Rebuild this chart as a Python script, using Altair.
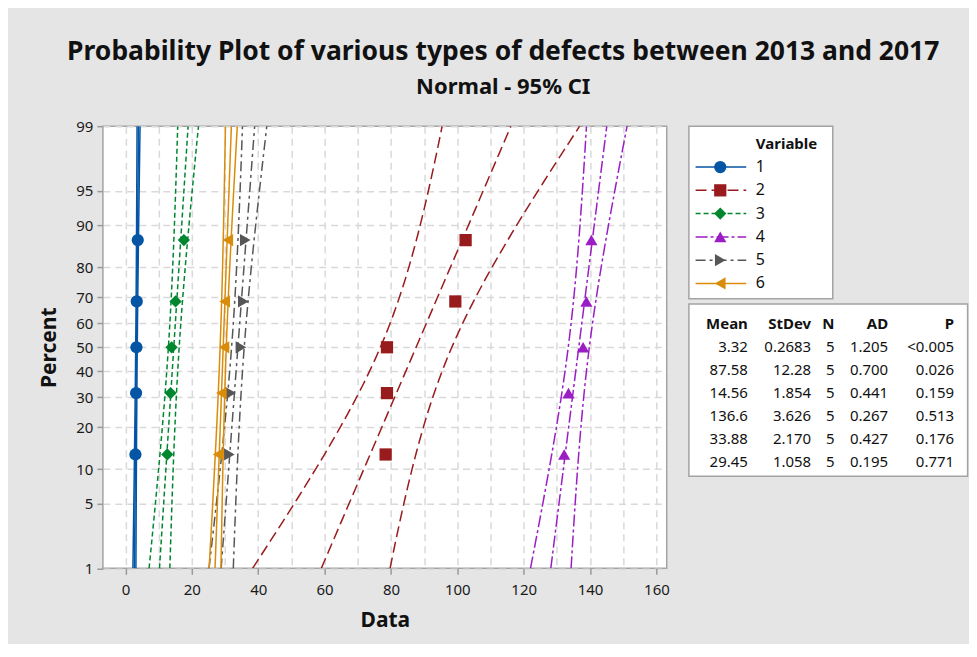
import altair as alt
import pandas as pd
from statistics import NormalDist

nd = NormalDist()

# ---------------- data ----------------
series = ["1", "2", "3", "4", "5", "6"]
data1 = [3.0, 3.2, 3.3, 3.4, 3.7]
data2 = [78.4, 78.8, 78.8, 99.4, 102.5]
data3 = [12.6, 13.6, 13.9, 15.1, 17.6]
data4 = [132.2, 133.5, 137.9, 138.9, 140.4]
data5 = [31.3, 31.7, 34.8, 35.5, 36.1]
data6 = [27.9, 28.9, 29.7, 29.9, 30.85]
all_data = [data1, data2, data3, data4, data5, data6]

means = [3.32, 87.58, 14.56, 136.6, 33.88, 29.45]
stdevs = [0.2683, 12.28, 1.854, 3.626, 2.170, 1.058]
ns = [5, 5, 5, 5, 5, 5]
ads = [1.205, 0.700, 0.441, 0.267, 0.427, 0.195]
pvals = ["<0.005", "0.026", "0.159", "0.513", "0.176", "0.771"]

pct_ticks = [1, 5, 10, 20, 30, 40, 50, 60, 70, 80, 90, 95, 99]
x_ticks = list(range(0, 161, 10))

# ---------------- styles ----------------
colors = ["#0455A4", "#981B1E", "#00862F", "#9B1EC4", "#565656", "#D98C0A"]
shapes = ["circle", "square", "diamond", "triangle-up", "triangle-right", "triangle-left"]
sizes = [150, 150, 170, 190, 190, 190]
dashes = [[1, 0], [11, 5], [5, 3], [12, 3, 3, 3], [10, 4, 3, 4], [1, 0]]
FONT = "Noto Sans"

# ---------------- tables for the library ----------------
pts = []
for s, vals in zip(series, all_data):
    n = len(vals)
    for i, v in enumerate(sorted(vals), start=1):
        pts.append({"series": s, "x": v, "z": nd.inv_cdf((i - 0.3) / (n + 0.4))})
pts_df = pd.DataFrame(pts)

z_lo, z_hi = nd.inv_cdf(0.01), nd.inv_cdf(0.99)
z_grid = [z_lo + (z_hi - z_lo) * k / 80 for k in range(81)]
crit = nd.inv_cdf(0.975)
line_rows = []
for s, m, sd, n in zip(series, means, stdevs, ns):
    for z in z_grid:
        xp = m + sd * z
        hw = crit * sd * ((1 / n) + z * z / (2 * n)) ** 0.5
        line_rows.append({"series": s, "part": s + "fit", "z": z, "x": xp})
        line_rows.append({"series": s, "part": s + "lo", "z": z, "x": xp - hw})
        line_rows.append({"series": s, "part": s + "hi", "z": z, "x": xp + hw})
lines_df = pd.DataFrame(line_rows)

zt = [nd.inv_cdf(p / 100) for p in pct_ticks]
label_expr = ""
for i in range(len(zt) - 1):
    mid = (zt[i] + zt[i + 1]) / 2
    label_expr += f"datum.value < {mid} ? '{pct_ticks[i]}' : "
label_expr += f"'{pct_ticks[-1]}'"

color = alt.Color("series:N", scale=alt.Scale(domain=series, range=colors), legend=None)
shape = alt.Shape("series:N", scale=alt.Scale(domain=series, range=shapes), legend=None)
size = alt.Size("series:N", scale=alt.Scale(domain=series, range=sizes), legend=None)
dash = alt.StrokeDash("series:N", scale=alt.Scale(domain=series, range=dashes), legend=None)

xenc = alt.X("x:Q", scale=alt.Scale(domain=[-6.8, 163.1], nice=False, zero=False),
             axis=alt.Axis(values=x_ticks, tickCount=40, title="Data", labelOverlap=False,
                           labelExpr="datum.value % 20 == 0 ? datum.label : ''",
                           tickOpacity={"condition": {"test": "datum.value % 20 != 0", "value": 0}, "value": 1},
                           titlePadding=12, labelPadding=8))
yenc = alt.Y("z:Q", scale=alt.Scale(domain=[z_lo, z_hi], nice=False, zero=False),
             axis=alt.Axis(values=zt, tickCount=40, title="Percent", labelExpr=label_expr, labelOverlap=False,
                           titlePadding=16, labelPadding=4))

lines = alt.Chart(lines_df).mark_line(strokeWidth=1.5, clip=True).encode(
    x=xenc, y=yenc, color=color, strokeDash=dash, detail="part:N", order="z:Q")
points = alt.Chart(pts_df).mark_point(filled=True, opacity=1, clip=True).encode(
    x="x:Q", y="z:Q", color=color, shape=shape, size=size)
main = alt.layer(lines, points).properties(width=564.4, height=442.6)

# ---------------- legend panel ----------------
leg_df = pd.DataFrame({"series": series, "row": list(range(1, len(series) + 1))})
leg_y = alt.Y("row:Q", scale=alt.Scale(domain=[-0.755, 6.652], reverse=True, nice=False, zero=False), axis=None)
leg_base = alt.Chart(leg_df).encode(y=leg_y)
leg_rule = leg_base.mark_rule(strokeWidth=1.5).encode(
    x=alt.value(6.7), x2=alt.value(57.4), color=color, strokeDash=dash)
leg_pt = leg_base.mark_point(filled=True, opacity=1).encode(
    x=alt.value(31.4), color=color, shape=shape, size=size)
leg_txt = leg_base.mark_text(align="left", baseline="middle", font=FONT, fontSize=16, color="#111").encode(
    x=alt.value(67), text="series:N")
leg_title = alt.Chart(pd.DataFrame({"row": [0], "t": ["Variable"]})).mark_text(
    align="left", baseline="middle", font=FONT, fontSize=15, fontWeight="bold", color="#111").encode(
    x=alt.value(67), y=leg_y, text="t:N")
legend_panel = alt.layer(leg_rule, leg_pt, leg_txt, leg_title).properties(width=144, height=172.6)

# ---------------- statistics table ----------------
tab_df = pd.DataFrame({
    "row": list(range(1, len(series) + 1)),
    "mean": [f"{v:.4g}" for v in means],
    "stdev": [f"{v:#.4g}" for v in stdevs],
    "n": [str(v) for v in ns],
    "ad": [f"{v:.3f}" for v in ads],
    "p": pvals,
})
head_df = pd.DataFrame({"row": [0], "mean": ["Mean"], "stdev": ["StDev"], "n": ["N"], "ad": ["AD"], "p": ["P"]})
tab_y = alt.Y("row:Q", scale=alt.Scale(domain=[-0.852, 6.605], reverse=True, nice=False, zero=False), axis=None)
col_right = {"mean": 59, "stdev": 122.4, "n": 145.7, "ad": 199.5, "p": 265.5}
tab_layers = []
for col, xr in col_right.items():
    tab_layers.append(alt.Chart(tab_df).mark_text(align="right", baseline="middle", font=FONT,
                                                  fontSize=15, color="#111").encode(
        x=alt.value(xr), y=tab_y, text=f"{col}:N"))
    tab_layers.append(alt.Chart(head_df).mark_text(align="right", baseline="middle", font=FONT,
                                                   fontSize=15, fontWeight="bold", color="#111").encode(
        x=alt.value(xr), y=tab_y, text=f"{col}:N"))
table_panel = alt.layer(*tab_layers).properties(width=279, height=172.4)

chart = alt.hconcat(
    main,
    alt.vconcat(legend_panel, table_panel, spacing=5, bounds="flush"),
    spacing=21.6,
    bounds="flush",
).properties(
    title=alt.TitleParams(
        text="Probability Plot of various types of defects between 2013 and 2017",
        subtitle="Normal - 95% CI",
    ),
    padding={"left": 30, "top": 30, "right": 0, "bottom": 12},
).configure(
    background="#e5e5e5",
).configure_view(
    fill="white", stroke="#a3a3a3", strokeWidth=1.5,
).configure_axis(
    labelFont=FONT, labelFontSize=15, labelColor="#1a1a1a",
    titleFont=FONT, titleFontSize=21, titleFontWeight="bold", titleColor="#111",
    tickColor="#9a9a9a", tickSize=6, tickWidth=1.5, domain=False,
    gridColor="#d9d9d9", gridDash=[7, 5], gridWidth=1.5,
).configure_title(
    font=FONT, fontSize=26.5, fontWeight="bold", color="#111",
    subtitleFont=FONT, subtitleFontSize=22, subtitleFontWeight="bold", subtitleColor="#111",
    anchor="middle", subtitlePadding=12, offset=20,
)

chart.save("out.html", embed_options={"renderer": "svg", "actions": False})
